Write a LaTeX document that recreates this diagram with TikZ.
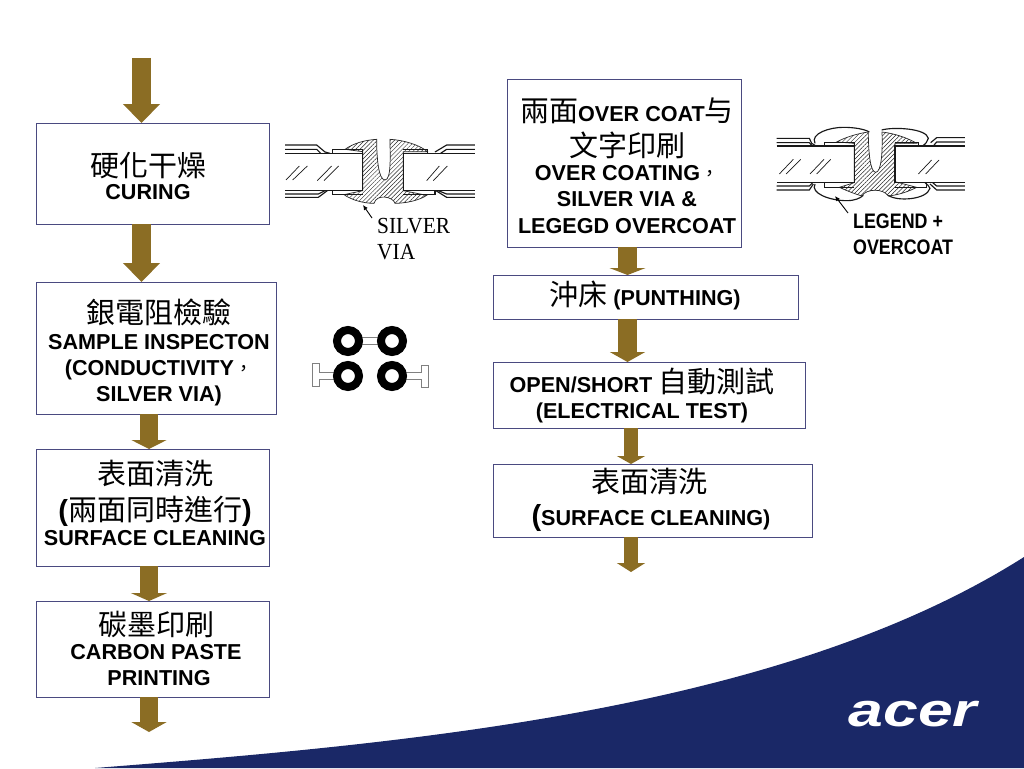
\documentclass[tikz,border=0pt]{standalone}
\usepackage{fontspec}
\setmainfont{Liberation Sans}
\newfontfamily\cjkf{Noto Sans CJK TC}
\newfontfamily\serifl{Liberation Serif}
\usetikzlibrary{arrows.meta,patterns.meta,calc}
\definecolor{arrowbrown}{HTML}{8B6D24}
\definecolor{boxline}{HTML}{4A4A80}
\definecolor{swoosh}{HTML}{1A2867}
\newcommand{\cjt}[1]{{\fontsize{29}{26}\selectfont\cjkf\mdseries #1}}
\newcommand{\cjc}{{\fontsize{19}{26}\selectfont\cjkf\mdseries ，}}
\newcommand{\bigp}[1]{{\fontsize{29}{26}\selectfont #1}}
\tikzset{
  flowbox/.style={draw=boxline,line width=0.8pt,rectangle,inner sep=0pt,anchor=north west},
  lab/.style={align=center,inner sep=0pt,font=\fontsize{21.6}{26}\selectfont\bfseries},
  fat/.style n args={3}{draw=arrowbrown,line width=#1,-{Triangle[width=#2,length=#3]}},
  hatchfill/.style={pattern={Lines[angle=45,distance=3pt,line width=0.5pt]},pattern color=black!85},
  via/.style={line width=1.15pt,black!90},
  thinlab/.style={inner sep=0pt,anchor=west,align=left}
}
\begin{document}
\begin{tikzpicture}[x=1pt,y=-1pt]
\lineskiplimit=-200pt
\useasboundingbox (0,0) rectangle (1024,768);
\fill[white] (0,0) rectangle (1024,768);
% swoosh
\fill[swoosh] (95,768) .. controls (400,744) and (780,712) .. (1024,557) -- (1024,768) -- cycle;
\node[text=white,inner sep=0pt,anchor=base,xscale=1.33,font=\fontsize{47}{47}\selectfont\bfseries\itshape] (acer) at (913,726) {acer};

% boxes
\node[flowbox,minimum width=232.5pt,minimum height=100.5pt] (curing) at (36,123) {};
\node[flowbox,minimum width=239.5pt,minimum height=131.5pt] (inspect) at (36,282) {};
\node[flowbox,minimum width=232.5pt,minimum height=116.5pt] (clean) at (36,449) {};
\node[flowbox,minimum width=232.5pt,minimum height=95.5pt] (carbon) at (36,601) {};
\node[flowbox,minimum width=233.5pt,minimum height=167.5pt] (coat) at (507,79) {};
\node[flowbox,minimum width=304.5pt,minimum height=43.5pt] (punch) at (493,275) {};
\node[flowbox,minimum width=311.5pt,minimum height=65.5pt] (etest) at (493,362) {};
\node[flowbox,minimum width=318.5pt,minimum height=72.5pt] (clean2) at (493,464) {};

% box texts
\node[lab] (curingT) at (148,175.5) {\cjt{硬化干燥}\\[-3pt]CURING};
\node[lab] (inspectT) at (159,352.5) {\cjt{銀電阻檢驗}\\[0pt]SAMPLE INSPECTON\\(CONDUCTIVITY\cjc\\SILVER VIA)};
\node[lab] (cleanT) at (155,502.5) {\cjt{表面清洗}\\[10pt]\bigp{(}\cjt{兩面同時進行}\bigp{)}\\[-1pt]SURFACE CLEANING};
\node[lab] (carbonT) at (156,648) {\cjt{碳墨印刷}\\[-2pt]CARBON PASTE\\\hspace*{6pt}PRINTING};
\node[lab] (coatT) at (627,165.5) {\cjt{兩面}OVER COAT\cjt{与}\\[9pt]\cjt{文字印刷}\\[-2pt]OVER COATING\cjc\\SILVER VIA \&\\[1pt]LEGEGD OVERCOAT};
\node[lab] (punchT) at (645,295.5) {\cjt{沖床} (PUNTHING)};
\node[lab] (etestT) at (642,395) {OPEN/SHORT \cjt{自動測試}\\[0pt](ELECTRICAL TEST)};
\node[lab] (clean2T) at (651,500) {\cjt{表面清洗}\hspace*{4pt}\\[7pt]\bigp{(}SURFACE CLEANING)};

% flow arrows
\coordinate (colA) at (141.5,0);
\coordinate (colB) at (149,0);
\coordinate (colC) at (627.5,0);
\coordinate (colD) at (631,0);
\coordinate (startTop) at (141.5,58);
\coordinate (endCarbon) at (149,732);
\coordinate (endClean) at (631,572);
\draw[fat={19pt}{36pt}{19pt}] (startTop) -- (curing.north -| colA);
\draw[fat={19pt}{36pt}{19pt}] (curing.south -| colA) -- (inspect.north -| colA);
\draw[fat={18pt}{35pt}{9pt}] (inspect.south -| colB) -- (clean.north -| colB);
\draw[fat={18pt}{36pt}{8pt}] (clean.south -| colB) -- (carbon.north -| colB);
\draw[fat={18pt}{35pt}{10pt}] (carbon.south -| colB) -- (endCarbon);
\draw[fat={18.5pt}{36pt}{7pt}] (coat.south -| colC) -- (punch.north -| colC);
\draw[fat={18.5pt}{35pt}{10pt}] (punch.south -| colC) -- (etest.north -| colC);
\draw[fat={14pt}{28pt}{8pt}] (etest.south -| colD) -- (clean2.north -| colD);
\draw[fat={14pt}{28pt}{9pt}] (clean2.south -| colD) -- (endClean);

% left via
\begin{scope}[shift={(270,120)},x=0.3333pt,y=-0.3333pt]
  \path[hatchfill,draw=black!85,line width=0.7pt] (225,88) .. controls (250,70) and (285,60) .. (320,58)
    .. controls (320,110) and (325,180) .. (345,180) .. controls (365,180) and (360,100) .. (360,58)
    .. controls (400,60) and (450,75) .. (472,95) -- (400,95) -- (400,212)
    -- (470,226) .. controls (450,240) and (410,250) .. (375,250)
    .. controls (370,230) and (320,220) .. (312,250)
    .. controls (280,250) and (245,240) .. (222,224) -- (278,212) -- (278,95) -- cycle;
  \draw[via] (45,75) -- (140,75) -- (165,96) -- (180,100);
  \draw[via] (45,88) -- (140,88) -- (152,100);
  \draw[via] (45,100) -- (278,100) -- (278,212) -- (45,212);
  \draw[via] (187,100) -- (187,88) -- (278,88) -- (278,100);
  \draw[via] (187,212) -- (187,224) -- (278,224);
  \draw[via] (45,222) -- (145,222) -- (165,212);
  \draw[via] (45,232) -- (145,232) -- (172,212);
  \draw[via] (615,75) -- (530,75) -- (495,96);
  \draw[via] (615,88) -- (530,88) -- (512,100);
  \draw[via] (615,100) -- (400,100) -- (400,212) -- (615,212);
  \draw[via] (400,88) -- (472,88) -- (472,100);
  \draw[via] (400,224) -- (495,224) -- (495,212);
  \draw[via] (615,222) -- (530,222) -- (505,212);
  \draw[via] (615,232) -- (530,232) -- (498,212);
  \draw[via,line width=0.7pt] (48,180) -- (88,138) (68,180) -- (112,138);
  \draw[via,line width=0.7pt] (142,182) -- (185,138) (162,182) -- (206,138);
  \draw[via,line width=0.7pt] (470,182) -- (508,138) (490,182) -- (532,138);
\end{scope}
\coordinate (silverTip) at (363,205);
\coordinate (silverTail) at (372,218);
\draw[-{Latex[length=5pt,width=4.5pt]},line width=0.9pt] (silverTail) -- (silverTip);
\node[thinlab,font=\fontsize{23}{26}\selectfont\serifl,xscale=0.93] (silverT) at (377,239) {SILVER\\VIA};

% right via
\begin{scope}[shift={(760,110)},x=0.3333pt,y=-0.3333pt]
  \path[hatchfill,draw=black!85,line width=0.7pt] (230,96) .. controls (255,82) and (295,70) .. (325,66)
    .. controls (325,120) and (330,187) .. (347,187) .. controls (365,187) and (368,120) .. (366,66)
    .. controls (400,70) and (440,82) .. (470,100) -- (405,100) -- (405,215)
    -- (470,232) .. controls (445,245) and (415,255) .. (385,258)
    .. controls (370,235) and (320,235) .. (305,258)
    .. controls (280,250) and (255,240) .. (238,232) -- (283,218) -- (283,100) -- cycle;
  \draw[via] (50,85) -- (148,85) -- (155,100) -- (165,106);
  \draw[via] (50,98) -- (148,98) -- (157,108);
  \draw[via] (50,108) -- (283,108) -- (283,218) -- (50,218);
  \draw[via] (193,108) -- (193,97) -- (283,97) -- (283,108);
  \draw[via] (193,218) -- (193,232) -- (283,232);
  \draw[via] (50,228) -- (148,228) -- (158,218);
  \draw[via] (50,240) -- (148,240) -- (160,222);
  \draw[via] (615,83) -- (530,83) -- (512,98);
  \draw[via] (615,96) -- (530,96) -- (520,108);
  \draw[via] (615,108) -- (405,108) -- (405,218) -- (615,218);
  \draw[via] (405,97) -- (475,97) -- (475,108);
  \draw[via] (405,232) -- (500,232) -- (500,218);
  \draw[via] (615,228) -- (530,228) -- (518,218);
  \draw[via] (615,240) -- (530,240) -- (510,222);
  \draw[via] (165,100) .. controls (150,70) and (210,52) .. (250,52) .. controls (285,52) and (315,58) .. (328,66);
  \draw[via] (365,60) .. controls (400,50) and (500,55) .. (505,85) .. controls (503,95) and (495,103) .. (490,106);
  \draw[via] (165,222) .. controls (150,250) and (210,272) .. (260,272) .. controls (285,272) and (300,265) .. (310,256);
  \draw[via] (385,256) .. controls (410,275) and (500,270) .. (510,235) .. controls (508,228) and (500,222) .. (495,218);
  \draw[via,line width=0.7pt] (58,192) -- (100,148) (78,192) -- (122,148);
  \draw[via,line width=0.7pt] (150,192) -- (192,148) (170,192) -- (212,148);
  \draw[via,line width=0.7pt] (475,192) -- (515,150) (497,192) -- (537,150);
\end{scope}
\coordinate (legendTip) at (835,196);
\coordinate (legendTail) at (848,213);
\draw[-{Latex[length=5pt,width=4.5pt]},line width=0.9pt] (legendTail) -- (legendTip);
\node[thinlab,font=\fontsize{21}{26}\selectfont\bfseries,xscale=0.85] (legendT) at (853,234) {LEGEND +\\OVERCOAT};

% pads
\tikzset{ring/.style={circle,draw=black,line width=8pt,minimum size=22pt,inner sep=0pt}}
\draw[gray,line width=0.9pt] (362,337) -- (378,337) (362,344) -- (378,344);
\draw[gray,line width=0.9pt,fill=white] (334,372.5) -- (319,372.5) -- (319,363.5) -- (312,363.5) -- (312,386) -- (319,386) -- (319,379.5) -- (334,379.5);
\draw[gray,line width=0.9pt,fill=white] (406,372.5) -- (421,372.5) -- (421,365) -- (428,365) -- (428,387) -- (421,387) -- (421,379.5) -- (406,379.5);
\node[ring] (p1) at (348,341) {};
\node[ring] (p2) at (392,341) {};
\node[ring] (p3) at (348,376) {};
\node[ring] (p4) at (392,376) {};
\end{tikzpicture}
\end{document}
